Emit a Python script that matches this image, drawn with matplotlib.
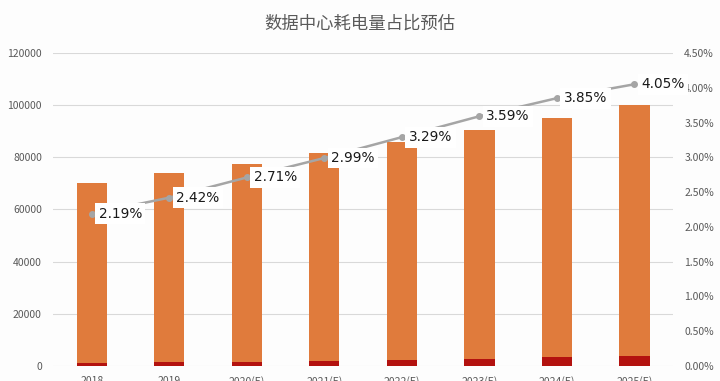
import matplotlib.pyplot as plt
import numpy as np

plt.rcParams['font.family'] = ['Noto Sans CJK SC', 'DejaVu Sans']

# values
years = ['2018', '2019', '2020(E)', '2021(E)', '2022(E)', '2023(E)', '2024(E)', '2025(E)']
total = [70000, 74000, 77500, 81500, 86000, 90500, 95000, 100000]
datacenter = [1300, 1650, 1650, 2000, 2300, 2700, 3600, 4000]
share = [2.19, 2.42, 2.71, 2.99, 3.29, 3.59, 3.85, 4.05]

fig = plt.figure(figsize=(7.2, 3.81), dpi=100, facecolor='#FDFDFD')
ax = fig.add_axes([0.0736, 0.0394, 0.8614, 0.8216])
ax.set_facecolor('#FDFDFD')

x = np.arange(len(years))
ax.bar(x, total, width=0.39, color='#E07B3C', zorder=2)
ax.bar(x, datacenter, width=0.39, color='#B3120F', zorder=3)

ax.set_xlim(-0.5, len(years) - 0.5)
ax.set_ylim(0, 120000)
ax.set_yticks(range(0, 120001, 20000))
ax.grid(axis='y', color='#D9D9D9', linewidth=0.8, zorder=0)
for s in ax.spines.values():
    s.set_visible(False)
ax.tick_params(axis='y', length=0, labelsize=7.5, labelcolor='#595959', pad=8)
ax.set_xticks(x)
ax.set_xticklabels(years)
ax.tick_params(axis='x', length=0, labelsize=7.5, labelcolor='#595959', pad=7)

ax2 = ax.twinx()
ax2.set_ylim(0, 4.5)
ax2.set_yticks(np.arange(0, 4.51, 0.5))
ax2.set_yticklabels([f'{v:.2f}%' for v in np.arange(0, 4.51, 0.5)])
ax2.tick_params(axis='y', length=0, labelsize=7.5, labelcolor='#595959', pad=8)
for s in ax2.spines.values():
    s.set_visible(False)

ax2.plot(x, share, color='#A5A5A5', linewidth=1.8, marker='o', markersize=4, zorder=4)
for xi, v in zip(x, share):
    ax2.annotate(f'{v:.2f}%', xy=(xi, v), xytext=(5, 0), textcoords='offset points',
                 ha='left', va='center', fontsize=9.8, color='#1A1A1A', family='DejaVu Sans',
                 bbox=dict(boxstyle='square,pad=0.25', fc='white', ec='none'), zorder=5)

fig.text(0.5, 0.938, '数据中心耗电量占比预估', ha='center', va='center',
         fontsize=12.5, color='#595959')

plt.savefig('out.png', dpi=100, facecolor=fig.get_facecolor())
